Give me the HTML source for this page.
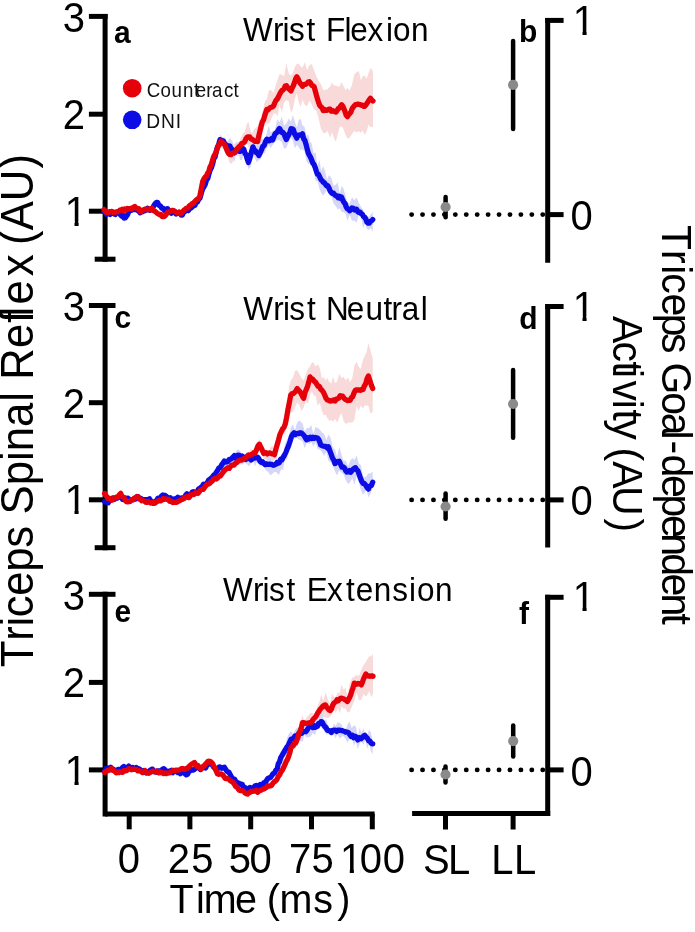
<!DOCTYPE html>
<html lang="en"><head><meta charset="utf-8"><title>Triceps reflex figure</title>
<style>html,body{margin:0;padding:0;background:#fff}svg{display:block;will-change:transform}</style></head>
<body>
<svg width="695" height="932" viewBox="0 0 695 932" font-family='"Liberation Sans", Arial, Helvetica, sans-serif'>
<rect width="695" height="932" fill="#fff"/>
<path d="M104.0,209.6 L106.0,211.5 L108.0,213.5 L110.0,212.9 L112.0,212.4 L114.0,211.9 L116.0,211.4 L118.0,211.1 L120.0,210.4 L122.0,210.0 L124.0,209.9 L126.0,209.3 L128.0,209.1 L130.0,208.3 L132.0,208.1 L134.0,207.8 L136.0,207.1 L138.0,209.0 L140.0,210.5 L142.0,209.7 L144.0,209.5 L146.0,209.7 L148.0,209.8 L150.0,209.2 L152.0,208.8 L154.0,210.4 L156.0,211.4 L158.0,212.9 L160.0,214.5 L162.0,215.9 L164.1,214.1 L166.2,212.6 L168.4,211.1 L170.5,209.9 L172.5,210.2 L174.5,210.4 L176.6,212.1 L178.6,212.2 L180.6,212.9 L182.6,210.6 L184.6,210.2 L186.6,208.3 L188.6,205.6 L190.6,204.4 L192.7,203.6 L194.7,202.0 L197.2,199.9 L199.7,196.5 L201.2,189.5 L202.7,181.3 L204.7,175.4 L206.8,172.1 L208.8,169.4 L210.8,163.6 L212.8,155.2 L214.8,150.1 L216.8,140.2 L218.9,137.6 L220.9,138.6 L222.9,137.3 L224.9,137.2 L227.0,144.0 L229.0,148.3 L231.0,150.6 L233.1,144.9 L235.1,143.2 L237.1,141.7 L239.2,142.3 L241.0,137.2 L242.9,133.5 L244.7,132.1 L246.6,124.4 L248.4,121.8 L250.2,129.6 L252.1,133.2 L253.9,129.5 L255.8,127.8 L257.6,125.9 L259.4,121.0 L261.1,117.6 L263.0,109.4 L264.9,101.2 L266.8,99.1 L269.1,89.8 L271.4,90.6 L273.7,93.1 L275.6,85.2 L277.6,80.1 L279.5,74.2 L281.8,74.6 L284.1,76.4 L286.4,63.3 L288.7,73.5 L291.0,75.6 L292.9,72.5 L294.9,67.1 L296.8,64.0 L298.7,63.4 L300.6,66.5 L302.5,67.6 L304.8,62.2 L307.1,69.9 L309.4,65.3 L311.7,64.0 L314.0,70.1 L316.3,76.2 L318.6,80.8 L320.9,84.3 L323.2,90.1 L325.5,89.9 L327.8,88.9 L330.1,86.4 L332.0,82.4 L334.0,85.4 L335.9,85.6 L337.8,86.6 L339.7,86.2 L341.6,82.1 L343.5,85.9 L345.5,90.0 L347.4,88.0 L349.7,90.5 L352.0,84.7 L354.3,74.3 L356.6,72.3 L358.9,71.1 L360.8,80.3 L362.8,75.9 L364.7,75.4 L366.6,78.7 L368.5,73.3 L370.4,67.9 L373.0,71.1 L373.0,126.8 L370.4,126.9 L368.5,124.5 L366.6,131.4 L364.7,134.9 L362.8,130.4 L360.8,132.7 L358.9,131.3 L356.6,132.3 L354.3,130.9 L352.0,133.9 L349.7,137.4 L347.4,138.7 L345.5,134.7 L343.5,129.3 L341.6,126.3 L339.7,127.2 L337.8,133.7 L335.9,141.8 L334.0,137.9 L332.0,132.1 L330.1,137.7 L327.8,131.0 L325.5,133.1 L323.2,132.9 L320.9,128.5 L318.6,118.7 L316.3,110.5 L314.0,109.5 L311.7,104.2 L309.4,100.4 L307.1,106.2 L304.8,105.1 L302.5,99.7 L300.6,106.9 L298.7,101.8 L296.8,93.1 L294.9,98.9 L292.9,108.7 L291.0,113.0 L288.7,101.2 L286.4,100.0 L284.1,102.6 L281.8,112.3 L279.5,105.1 L277.6,116.2 L275.6,113.2 L273.7,113.8 L271.4,118.5 L269.1,123.6 L266.8,123.5 L264.9,123.2 L263.0,131.1 L261.1,141.9 L259.4,150.2 L257.6,148.7 L255.8,155.1 L253.9,148.5 L252.1,151.6 L250.2,148.2 L248.4,147.0 L246.6,141.7 L244.7,142.7 L242.9,151.6 L241.0,153.7 L239.2,155.2 L237.1,156.5 L235.1,152.6 L233.1,161.7 L231.0,163.9 L229.0,161.5 L227.0,153.1 L224.9,147.5 L222.9,145.1 L220.9,141.6 L218.9,151.2 L216.8,155.4 L214.8,160.8 L212.8,161.9 L210.8,170.3 L208.8,173.2 L206.8,176.7 L204.7,181.0 L202.7,183.7 L201.2,191.8 L199.7,198.9 L197.2,200.4 L194.7,202.8 L192.7,204.5 L190.6,205.7 L188.6,207.4 L186.6,209.6 L184.6,210.3 L182.6,213.0 L180.6,213.6 L178.6,213.5 L176.6,213.1 L174.5,212.4 L172.5,211.2 L170.5,211.5 L168.4,212.6 L166.2,214.1 L164.1,215.5 L162.0,217.0 L160.0,216.1 L158.0,214.5 L156.0,213.1 L154.0,211.8 L152.0,209.7 L150.0,210.1 L148.0,210.3 L146.0,210.3 L144.0,210.6 L142.0,210.9 L140.0,210.9 L138.0,209.4 L136.0,207.9 L134.0,208.5 L132.0,208.5 L130.0,208.9 L128.0,209.3 L126.0,210.0 L124.0,210.1 L122.0,210.6 L120.0,210.8 L118.0,211.2 L116.0,211.6 L114.0,212.1 L112.0,212.6 L110.0,213.1 L108.0,213.6 L106.0,211.6 L104.0,209.6Z" fill="#f8dada" stroke="none"/>
<path d="M104.0,212.0 L106.0,212.7 L108.0,213.3 L110.0,213.9 L112.0,213.7 L114.0,213.4 L116.0,213.2 L118.0,212.8 L120.0,214.2 L122.0,215.5 L124.0,216.8 L126.0,214.6 L128.0,212.7 L130.0,210.7 L132.0,211.0 L134.0,211.4 L136.0,211.5 L138.0,211.5 L140.0,211.6 L142.0,210.6 L144.0,209.6 L146.0,208.8 L148.0,208.3 L150.0,207.4 L152.1,205.9 L154.3,204.9 L156.4,203.1 L158.6,204.6 L160.8,205.7 L163.0,206.8 L164.8,207.9 L166.5,208.4 L168.2,209.6 L170.0,210.9 L172.0,211.2 L174.0,211.2 L176.0,212.9 L178.0,213.4 L180.0,214.0 L181.8,213.7 L183.5,212.8 L185.2,212.2 L187.0,210.9 L189.0,210.1 L191.0,208.4 L193.0,205.2 L195.0,204.5 L197.5,201.4 L200.0,197.9 L202.0,191.1 L204.0,183.9 L206.5,179.4 L209.0,170.6 L211.0,166.5 L213.0,156.3 L215.0,154.5 L217.5,146.6 L220.0,134.3 L222.0,137.3 L224.0,142.7 L226.0,142.7 L228.0,140.5 L230.0,137.9 L232.3,141.1 L234.6,147.4 L236.4,140.9 L238.3,148.5 L240.1,140.9 L242.0,147.4 L243.8,140.3 L246.1,153.0 L248.4,155.9 L250.7,147.7 L253.0,141.7 L254.9,144.8 L256.9,145.7 L258.8,144.3 L260.8,139.4 L262.8,139.0 L264.8,139.9 L266.8,132.7 L268.7,125.7 L270.7,132.8 L272.6,130.8 L274.9,129.9 L277.2,119.2 L279.5,122.3 L281.8,116.9 L284.1,125.5 L286.4,123.4 L288.7,118.6 L291.0,121.4 L292.9,115.1 L294.9,121.8 L296.8,127.5 L298.7,119.9 L300.6,118.7 L302.5,125.6 L304.4,126.6 L306.4,135.9 L308.3,134.4 L310.0,141.7 L311.7,143.3 L313.6,153.7 L315.6,152.1 L317.5,166.6 L319.4,159.8 L321.3,170.7 L323.2,166.1 L325.1,171.2 L327.1,179.7 L329.0,174.9 L331.3,177.7 L333.6,185.7 L335.9,184.8 L337.8,182.3 L339.7,194.0 L341.6,186.1 L343.5,188.4 L345.5,195.4 L347.4,201.9 L349.7,203.8 L352.0,197.3 L354.3,200.2 L356.6,197.6 L358.9,203.0 L361.2,207.2 L363.1,210.0 L365.1,214.9 L367.0,216.3 L368.9,217.0 L370.8,214.7 L372.7,211.6 L372.7,232.1 L370.8,228.2 L368.9,230.1 L367.0,229.0 L365.1,222.5 L363.1,228.3 L361.2,216.9 L358.9,214.7 L356.6,222.8 L354.3,220.5 L352.0,220.7 L349.7,214.7 L347.4,220.7 L345.5,213.4 L343.5,211.9 L341.6,212.1 L339.7,208.3 L337.8,209.6 L335.9,206.2 L333.6,203.4 L331.3,196.6 L329.0,195.0 L327.1,189.9 L325.1,192.8 L323.2,195.6 L321.3,193.2 L319.4,188.8 L317.5,181.0 L315.6,181.0 L313.6,169.8 L311.7,164.6 L310.0,162.7 L308.3,164.0 L306.4,160.7 L304.4,150.9 L302.5,149.4 L300.6,150.1 L298.7,147.1 L296.8,144.8 L294.9,148.3 L292.9,141.0 L291.0,137.4 L288.7,141.9 L286.4,147.7 L284.1,148.7 L281.8,141.7 L279.5,140.3 L277.2,139.9 L274.9,142.1 L272.6,144.9 L270.7,148.2 L268.7,145.3 L266.8,147.4 L264.8,153.3 L262.8,152.8 L260.8,158.9 L258.8,159.9 L256.9,162.6 L254.9,158.1 L253.0,153.3 L250.7,166.7 L248.4,169.4 L246.1,158.7 L243.8,154.2 L242.0,160.0 L240.1,160.0 L238.3,151.7 L236.4,153.2 L234.6,161.6 L232.3,158.9 L230.0,151.0 L228.0,151.7 L226.0,155.2 L224.0,149.1 L222.0,147.6 L220.0,147.8 L217.5,153.0 L215.0,161.8 L213.0,164.9 L211.0,172.3 L209.0,178.7 L206.5,182.8 L204.0,187.6 L202.0,195.0 L200.0,199.9 L197.5,203.2 L195.0,206.5 L193.0,208.3 L191.0,209.7 L189.0,211.0 L187.0,213.0 L185.2,213.4 L183.5,214.3 L181.8,214.8 L180.0,214.9 L178.0,214.1 L176.0,214.4 L174.0,213.0 L172.0,212.3 L170.0,212.0 L168.2,210.9 L166.5,210.4 L164.8,209.2 L163.0,208.2 L160.8,206.8 L158.6,205.8 L156.4,204.3 L154.3,205.7 L152.1,206.7 L150.0,208.5 L148.0,209.0 L146.0,210.0 L144.0,210.8 L142.0,211.7 L140.0,212.5 L138.0,212.4 L136.0,211.7 L134.0,211.6 L132.0,211.4 L130.0,211.4 L128.0,213.4 L126.0,215.2 L124.0,217.3 L122.0,215.9 L120.0,214.4 L118.0,213.2 L116.0,213.4 L114.0,213.6 L112.0,213.8 L110.0,214.1 L108.0,213.3 L106.0,212.7 L104.0,212.0Z" fill="#d6d6f8" stroke="none"/>
<path d="M104.6,494.4 L106.9,496.3 L109.2,498.1 L111.5,500.0 L113.3,498.9 L115.2,497.6 L117.0,496.4 L118.9,495.5 L120.7,494.1 L123.0,496.8 L125.3,499.7 L127.6,502.1 L129.4,501.4 L131.3,500.3 L133.1,499.4 L135.0,498.2 L136.8,497.5 L138.8,498.4 L140.9,498.9 L142.9,499.7 L144.9,500.4 L146.9,500.6 L148.9,501.9 L151.0,502.5 L153.0,502.9 L154.9,501.8 L156.8,501.9 L158.8,500.7 L160.7,500.2 L162.6,499.6 L164.5,498.6 L166.3,499.8 L168.2,500.0 L170.0,501.5 L171.9,501.9 L173.7,503.5 L175.5,502.5 L177.4,500.4 L179.2,499.5 L181.1,498.7 L182.9,498.9 L184.9,497.2 L186.8,496.7 L188.8,495.3 L190.8,494.8 L192.8,493.7 L194.7,492.8 L196.7,492.4 L198.5,491.0 L200.4,490.2 L202.2,488.3 L204.1,487.4 L205.9,485.9 L207.7,484.8 L209.6,482.6 L211.4,479.8 L213.3,480.3 L215.1,479.2 L217.0,477.4 L218.9,474.8 L220.8,473.7 L222.8,470.3 L224.7,471.0 L226.6,468.4 L228.5,465.7 L230.4,463.1 L232.3,464.8 L234.3,463.8 L236.2,458.2 L238.1,459.9 L240.2,456.8 L242.3,454.3 L244.4,453.7 L246.5,454.9 L248.6,454.3 L250.8,448.5 L252.9,450.5 L255.1,445.7 L257.2,445.5 L259.4,438.3 L261.5,447.5 L263.7,453.6 L265.9,449.8 L268.0,453.7 L270.2,447.7 L272.3,445.4 L274.5,449.9 L276.3,438.2 L278.1,433.5 L279.9,429.3 L281.7,427.6 L283.5,419.0 L285.3,413.3 L287.1,408.1 L288.9,387.7 L290.7,380.5 L292.9,377.8 L295.0,370.7 L297.2,370.3 L299.4,373.9 L301.5,378.2 L303.7,380.6 L305.8,374.2 L308.0,368.9 L310.1,366.3 L311.9,362.5 L313.7,362.5 L315.5,366.6 L317.7,364.3 L319.8,368.0 L322.0,378.5 L323.8,376.9 L325.6,380.6 L327.4,378.1 L329.3,382.1 L331.2,383.4 L333.1,376.8 L335.0,382.9 L337.1,381.4 L339.3,373.5 L341.4,378.1 L343.6,377.1 L345.8,380.3 L347.9,377.6 L350.1,382.3 L352.3,378.1 L354.4,365.7 L356.6,361.5 L358.7,366.9 L360.9,368.7 L363.0,359.6 L364.8,356.1 L366.6,351.8 L368.4,343.0 L370.5,350.4 L372.7,357.9 L372.7,411.8 L370.5,413.5 L368.4,405.8 L366.6,405.5 L364.8,405.3 L363.0,408.5 L360.9,405.4 L358.7,410.9 L356.6,406.0 L354.4,419.7 L352.3,422.6 L350.1,422.6 L347.9,422.8 L345.8,423.9 L343.6,421.3 L341.4,412.9 L339.3,417.3 L337.1,422.6 L335.0,418.7 L333.1,421.7 L331.2,419.7 L329.3,421.0 L327.4,418.0 L325.6,414.7 L323.8,415.4 L322.0,411.3 L319.8,402.8 L317.7,405.5 L315.5,395.5 L313.7,395.6 L311.9,391.2 L310.1,394.9 L308.0,404.0 L305.8,400.8 L303.7,407.5 L301.5,411.0 L299.4,404.9 L297.2,402.4 L295.0,407.6 L292.9,412.1 L290.7,412.5 L288.9,417.3 L287.1,418.6 L285.3,434.9 L283.5,433.0 L281.7,434.6 L279.9,445.6 L278.1,445.4 L276.3,457.9 L274.5,459.5 L272.3,462.2 L270.2,460.4 L268.0,457.2 L265.9,459.9 L263.7,458.7 L261.5,451.5 L259.4,446.9 L257.2,450.5 L255.1,456.4 L252.9,456.8 L250.8,456.6 L248.6,456.7 L246.5,459.9 L244.4,460.6 L242.3,461.6 L240.2,464.2 L238.1,464.2 L236.2,462.9 L234.3,466.2 L232.3,466.1 L230.4,470.4 L228.5,470.6 L226.6,473.5 L224.7,473.3 L222.8,475.5 L220.8,476.8 L218.9,477.4 L217.0,480.2 L215.1,481.8 L213.3,482.5 L211.4,484.9 L209.6,486.2 L207.7,486.2 L205.9,486.6 L204.1,489.3 L202.2,490.8 L200.4,490.7 L198.5,493.6 L196.7,493.5 L194.7,494.5 L192.8,495.6 L190.8,496.0 L188.8,497.4 L186.8,497.9 L184.9,499.3 L182.9,499.9 L181.1,501.3 L179.2,502.2 L177.4,503.2 L175.5,503.0 L173.7,504.0 L171.9,503.1 L170.0,502.4 L168.2,501.7 L166.3,501.1 L164.5,499.7 L162.6,500.2 L160.7,500.9 L158.8,502.2 L156.8,502.7 L154.9,503.6 L153.0,504.0 L151.0,503.6 L148.9,502.8 L146.9,501.8 L144.9,500.9 L142.9,500.4 L140.9,499.4 L138.8,498.6 L136.8,498.0 L135.0,498.8 L133.1,500.1 L131.3,500.7 L129.4,501.5 L127.6,502.5 L125.3,500.1 L123.0,497.4 L120.7,494.5 L118.9,495.6 L117.0,496.8 L115.2,497.8 L113.3,499.0 L111.5,500.2 L109.2,498.3 L106.9,496.3 L104.6,494.4Z" fill="#f8dada" stroke="none"/>
<path d="M104.6,502.4 L106.4,501.7 L108.3,501.1 L110.2,500.4 L112.0,499.7 L114.0,499.3 L116.0,498.9 L118.0,498.4 L120.0,497.8 L122.0,497.9 L124.0,498.6 L126.0,498.9 L128.0,499.2 L130.2,498.1 L132.5,497.1 L134.8,496.9 L137.0,495.7 L139.2,496.7 L141.5,497.6 L143.8,497.7 L146.0,498.8 L147.8,499.6 L149.5,500.0 L151.2,500.4 L153.0,500.7 L154.8,498.3 L156.7,498.4 L158.5,497.7 L160.3,496.5 L162.2,494.9 L164.0,494.7 L166.0,494.7 L168.0,497.7 L170.0,498.5 L172.0,498.7 L174.0,499.0 L176.2,499.6 L178.5,497.7 L180.8,497.5 L183.0,496.4 L185.2,494.3 L187.3,493.0 L189.5,492.5 L191.7,490.9 L193.8,489.0 L196.0,488.4 L198.0,488.6 L200.0,484.1 L202.0,482.4 L204.0,482.9 L206.0,479.8 L208.2,478.5 L210.5,475.8 L212.8,472.9 L215.0,473.8 L216.9,467.4 L218.7,466.3 L220.6,462.9 L222.4,463.1 L224.3,458.8 L226.3,458.1 L228.2,459.5 L230.2,455.7 L232.2,456.1 L234.2,457.4 L236.1,450.8 L238.1,449.4 L240.2,451.0 L242.3,455.5 L244.4,454.8 L246.5,452.2 L248.6,453.4 L250.8,451.0 L252.9,452.6 L255.1,447.7 L257.2,455.2 L259.4,458.5 L261.6,460.4 L263.7,459.3 L265.9,462.6 L268.0,452.9 L270.2,456.6 L272.3,464.8 L274.5,463.4 L276.7,457.0 L278.9,460.5 L281.0,454.6 L283.2,454.4 L285.0,444.6 L286.8,439.4 L288.6,438.1 L290.8,428.1 L292.9,424.2 L294.8,430.8 L296.6,424.1 L298.5,420.7 L300.4,421.3 L302.6,423.7 L304.8,431.5 L306.9,427.9 L309.1,428.1 L311.2,425.1 L313.4,434.1 L315.5,427.1 L317.7,427.9 L319.8,429.5 L322.0,432.6 L324.2,434.1 L326.3,440.0 L328.5,434.5 L330.7,437.9 L332.8,447.5 L335.0,449.4 L337.1,457.1 L339.3,446.8 L341.5,454.8 L343.6,461.0 L345.8,460.5 L348.0,466.6 L350.1,460.7 L352.3,458.0 L354.4,459.7 L356.6,455.5 L358.7,463.4 L360.9,465.2 L363.0,475.9 L364.8,477.6 L366.6,476.1 L368.4,473.2 L370.5,473.6 L372.7,471.4 L372.7,487.0 L370.5,493.7 L368.4,497.5 L366.6,489.3 L364.8,492.2 L363.0,495.1 L360.9,490.1 L358.7,481.9 L356.6,476.0 L354.4,484.7 L352.3,478.2 L350.1,482.2 L348.0,484.1 L345.8,479.9 L343.6,474.5 L341.5,472.8 L339.3,470.2 L337.1,475.6 L335.0,471.7 L332.8,465.3 L330.7,462.3 L328.5,461.1 L326.3,451.8 L324.2,455.9 L322.0,452.3 L319.8,449.4 L317.7,449.3 L315.5,442.7 L313.4,446.4 L311.2,442.1 L309.1,444.3 L306.9,441.9 L304.8,448.6 L302.6,441.4 L300.4,440.1 L298.5,439.5 L296.6,437.8 L294.8,438.5 L292.9,439.8 L290.8,444.4 L288.6,451.3 L286.8,460.4 L285.0,456.7 L283.2,469.6 L281.0,469.4 L278.9,474.9 L276.7,472.6 L274.5,471.7 L272.3,474.0 L270.2,475.2 L268.0,471.7 L265.9,470.5 L263.7,464.2 L261.6,466.6 L259.4,465.4 L257.2,461.1 L255.1,466.5 L252.9,458.7 L250.8,464.3 L248.6,466.2 L246.5,463.6 L244.4,462.8 L242.3,464.4 L240.2,463.9 L238.1,462.9 L236.1,462.5 L234.2,464.4 L232.2,461.7 L230.2,465.3 L228.2,465.0 L226.3,465.9 L224.3,467.3 L222.4,469.8 L220.6,471.3 L218.7,470.4 L216.9,473.4 L215.0,478.3 L212.8,476.5 L210.5,479.4 L208.2,481.3 L206.0,485.8 L204.0,485.4 L202.0,486.9 L200.0,489.4 L198.0,489.7 L196.0,493.0 L193.8,492.8 L191.7,496.5 L189.5,497.1 L187.3,497.2 L185.2,497.8 L183.0,499.6 L180.8,500.1 L178.5,499.2 L176.2,502.4 L174.0,501.7 L172.0,502.7 L170.0,500.0 L168.0,500.4 L166.0,498.1 L164.0,496.7 L162.2,498.8 L160.3,499.5 L158.5,499.8 L156.7,499.6 L154.8,501.4 L153.0,501.4 L151.2,501.3 L149.5,501.5 L147.8,501.1 L146.0,500.7 L143.8,500.0 L141.5,499.0 L139.2,497.5 L137.0,496.6 L134.8,497.7 L132.5,499.0 L130.2,499.7 L128.0,500.3 L126.0,500.1 L124.0,499.1 L122.0,499.1 L120.0,498.1 L118.0,498.5 L116.0,499.4 L114.0,499.8 L112.0,500.1 L110.2,500.7 L108.3,501.3 L106.4,501.9 L104.6,502.4Z" fill="#d6d6f8" stroke="none"/>
<path d="M104.6,772.5 L106.9,771.3 L109.2,770.2 L111.5,769.0 L113.8,771.3 L116.1,773.7 L118.0,772.7 L119.9,772.0 L121.8,771.3 L123.8,770.5 L125.7,769.7 L127.6,768.7 L129.6,769.2 L131.5,769.4 L133.5,769.9 L135.5,770.2 L137.5,770.3 L139.4,770.7 L141.4,771.1 L143.5,771.5 L145.5,771.5 L147.6,771.3 L149.6,771.8 L151.7,771.5 L153.7,771.9 L155.8,771.7 L157.8,771.7 L159.9,772.4 L161.8,771.9 L163.7,771.9 L165.7,772.5 L167.6,772.4 L169.5,771.9 L171.4,772.4 L173.4,771.4 L175.3,770.9 L177.3,769.8 L179.3,769.8 L181.3,768.9 L183.2,768.5 L185.2,767.8 L187.0,766.5 L188.9,765.9 L190.7,765.0 L192.6,764.2 L194.4,763.5 L196.7,764.8 L199.0,766.3 L201.3,766.7 L203.1,766.1 L205.0,764.3 L206.8,762.9 L208.7,762.1 L210.5,760.3 L212.8,764.3 L215.1,768.7 L217.4,773.2 L219.2,773.3 L221.1,775.4 L222.9,775.0 L224.8,777.0 L226.6,778.0 L228.7,778.6 L230.7,781.5 L232.8,782.7 L234.8,784.8 L236.9,785.7 L238.9,787.2 L240.9,788.8 L243.0,791.5 L245.0,791.7 L247.1,792.4 L249.2,792.5 L251.3,792.3 L253.4,791.1 L255.5,790.9 L257.6,791.0 L259.6,790.4 L261.5,788.0 L263.5,788.3 L265.5,787.3 L267.5,786.4 L269.4,782.8 L271.4,784.7 L273.4,779.2 L275.4,777.6 L277.5,776.3 L279.5,775.2 L281.5,768.4 L283.6,767.1 L285.6,761.0 L287.6,755.6 L289.3,749.7 L291.0,742.9 L292.9,739.7 L294.9,737.7 L296.8,738.8 L298.7,734.8 L300.6,722.4 L302.5,714.7 L304.5,722.1 L306.6,717.3 L308.6,715.3 L310.6,712.7 L312.9,713.5 L315.2,712.9 L317.5,705.7 L319.4,701.9 L321.3,694.6 L323.2,700.8 L325.5,692.5 L327.8,698.9 L330.1,704.0 L332.0,693.4 L334.0,697.1 L335.9,696.7 L337.8,692.2 L339.7,693.1 L341.6,684.6 L343.5,689.6 L345.5,687.8 L347.4,696.5 L349.7,683.3 L352.0,677.9 L354.3,676.7 L356.6,674.9 L358.9,676.0 L361.2,670.0 L363.5,664.9 L365.8,662.2 L367.6,658.8 L369.4,656.0 L371.2,656.6 L373.0,653.2 L373.0,693.7 L371.2,697.3 L369.4,691.0 L367.6,694.4 L365.8,696.6 L363.5,693.9 L361.2,700.0 L358.9,700.3 L356.6,692.3 L354.3,701.1 L352.0,706.2 L349.7,711.8 L347.4,712.4 L345.5,708.3 L343.5,708.5 L341.6,706.3 L339.7,713.2 L337.8,708.6 L335.9,712.5 L334.0,710.0 L332.0,714.3 L330.1,716.7 L327.8,718.3 L325.5,717.4 L323.2,716.8 L321.3,719.6 L319.4,721.2 L317.5,716.2 L315.2,724.3 L312.9,728.5 L310.6,729.9 L308.6,724.2 L306.6,722.8 L304.5,727.2 L302.5,727.7 L300.6,735.7 L298.7,740.4 L296.8,745.0 L294.9,749.6 L292.9,747.9 L291.0,752.2 L289.3,755.5 L287.6,765.6 L285.6,767.7 L283.6,769.8 L281.5,772.6 L279.5,777.1 L277.5,782.0 L275.4,780.8 L273.4,783.8 L271.4,786.3 L269.4,788.8 L267.5,787.6 L265.5,789.3 L263.5,791.2 L261.5,791.7 L259.6,791.1 L257.6,792.7 L255.5,793.8 L253.4,792.8 L251.3,793.0 L249.2,794.4 L247.1,793.6 L245.0,794.2 L243.0,791.8 L240.9,791.3 L238.9,790.2 L236.9,788.3 L234.8,786.3 L232.8,784.9 L230.7,782.4 L228.7,781.4 L226.6,778.4 L224.8,777.7 L222.9,776.5 L221.1,776.4 L219.2,776.0 L217.4,774.9 L215.1,770.5 L212.8,765.9 L210.5,761.2 L208.7,762.6 L206.8,764.1 L205.0,765.5 L203.1,767.1 L201.3,768.1 L199.0,767.6 L196.7,766.7 L194.4,765.4 L192.6,766.2 L190.7,766.5 L188.9,767.1 L187.0,768.1 L185.2,768.5 L183.2,769.3 L181.3,769.7 L179.3,770.4 L177.3,770.9 L175.3,771.8 L173.4,772.7 L171.4,773.3 L169.5,773.2 L167.6,773.1 L165.7,773.1 L163.7,772.6 L161.8,773.0 L159.9,773.2 L157.8,773.0 L155.8,772.4 L153.7,772.5 L151.7,772.5 L149.6,772.4 L147.6,772.1 L145.5,772.1 L143.5,771.6 L141.4,771.8 L139.4,771.4 L137.5,770.9 L135.5,770.5 L133.5,770.2 L131.5,769.8 L129.6,769.5 L127.6,769.2 L125.7,769.8 L123.8,770.8 L121.8,771.4 L119.9,772.2 L118.0,773.0 L116.1,773.8 L113.8,771.4 L111.5,769.1 L109.2,770.2 L106.9,771.3 L104.6,772.5Z" fill="#f8dada" stroke="none"/>
<path d="M104.6,770.0 L106.4,769.5 L108.3,769.0 L110.2,768.4 L112.0,767.8 L114.0,768.4 L116.0,768.9 L118.0,769.4 L120.0,769.8 L121.9,768.8 L123.8,767.5 L125.7,766.6 L127.6,765.5 L129.4,766.1 L131.3,767.0 L133.2,767.9 L135.0,768.5 L136.9,768.9 L138.8,769.3 L140.6,769.2 L142.5,769.8 L144.4,770.0 L146.2,770.3 L148.1,770.2 L150.0,770.2 L151.9,770.8 L153.8,770.8 L155.6,770.4 L157.5,770.0 L159.4,770.1 L161.2,770.6 L163.1,770.1 L165.0,770.9 L167.2,770.6 L169.3,770.3 L171.5,771.0 L173.7,770.8 L175.8,771.7 L178.0,771.8 L179.9,771.6 L181.8,772.1 L183.7,772.5 L185.6,773.0 L187.5,773.6 L189.4,770.4 L191.2,769.2 L193.1,767.9 L195.0,765.7 L197.0,766.4 L199.0,765.8 L201.0,767.4 L203.0,766.9 L205.0,764.7 L207.0,764.6 L209.0,762.4 L211.0,760.7 L213.0,763.7 L215.0,764.9 L217.0,767.4 L218.8,768.9 L220.7,767.8 L222.5,764.7 L224.3,766.9 L226.2,765.8 L228.1,768.8 L230.0,772.9 L232.3,774.7 L234.6,776.3 L236.9,779.5 L238.7,780.7 L240.6,780.4 L242.4,785.9 L244.3,782.1 L246.1,785.1 L248.0,786.6 L249.9,784.4 L251.9,787.5 L253.8,782.9 L255.7,787.1 L257.6,786.3 L259.5,783.5 L261.4,783.6 L263.4,779.2 L265.3,780.5 L267.2,778.9 L269.1,775.5 L271.1,772.1 L273.1,770.9 L275.2,765.6 L277.2,759.9 L279.1,760.3 L281.0,751.0 L282.9,747.8 L284.9,747.2 L286.9,738.2 L289.0,733.4 L291.0,731.0 L293.0,734.0 L295.1,730.1 L297.1,727.4 L299.1,727.9 L300.9,731.7 L302.8,722.9 L304.6,723.3 L306.5,727.1 L308.3,722.7 L310.6,718.5 L312.9,720.4 L315.2,720.1 L317.5,714.8 L319.8,715.9 L322.1,713.6 L324.1,721.7 L326.1,719.0 L328.1,725.3 L330.1,731.3 L331.9,730.3 L333.8,723.8 L335.6,725.9 L337.5,722.3 L339.3,722.7 L341.4,724.3 L343.5,728.4 L345.5,730.6 L347.6,724.2 L349.7,721.8 L351.7,728.1 L353.8,725.2 L355.8,726.4 L357.8,736.0 L359.7,727.6 L361.6,733.1 L363.5,728.0 L365.3,735.9 L367.2,736.6 L369.0,729.5 L370.9,732.6 L372.7,742.5 L372.7,754.6 L370.9,751.0 L369.0,743.9 L367.2,748.8 L365.3,738.9 L363.5,745.3 L361.6,741.6 L359.7,743.6 L357.8,749.3 L355.8,741.2 L353.8,746.1 L351.7,735.8 L349.7,737.4 L347.6,742.8 L345.5,739.1 L343.5,735.9 L341.4,736.9 L339.3,738.7 L337.5,733.4 L335.6,738.5 L333.8,733.9 L331.9,735.7 L330.1,733.1 L328.1,734.6 L326.1,734.1 L324.1,730.9 L322.1,728.5 L319.8,725.8 L317.5,725.6 L315.2,735.2 L312.9,733.1 L310.6,736.7 L308.3,736.9 L306.5,737.8 L304.6,734.3 L302.8,741.5 L300.9,741.3 L299.1,740.6 L297.1,743.4 L295.1,739.4 L293.0,739.2 L291.0,746.5 L289.0,745.3 L286.9,749.6 L284.9,754.5 L282.9,762.0 L281.0,758.6 L279.1,765.5 L277.2,769.1 L275.2,775.3 L273.1,777.2 L271.1,780.2 L269.1,782.0 L267.2,781.7 L265.3,784.2 L263.4,789.5 L261.4,787.0 L259.5,791.0 L257.6,788.0 L255.7,791.7 L253.8,792.7 L251.9,789.9 L249.9,789.7 L248.0,789.2 L246.1,792.8 L244.3,792.0 L242.4,787.5 L240.6,789.4 L238.7,786.8 L236.9,786.4 L234.6,782.1 L232.3,779.9 L230.0,775.9 L228.1,772.2 L226.2,770.2 L224.3,770.1 L222.5,771.2 L220.7,771.2 L218.8,770.1 L217.0,772.2 L215.0,770.4 L213.0,767.4 L211.0,764.2 L209.0,765.7 L207.0,766.2 L205.0,768.3 L203.0,768.9 L201.0,768.7 L199.0,768.6 L197.0,769.0 L195.0,768.4 L193.1,770.4 L191.2,771.8 L189.4,772.3 L187.5,774.2 L185.6,773.6 L183.7,773.4 L181.8,774.1 L179.9,772.9 L178.0,772.4 L175.8,772.2 L173.7,771.9 L171.5,771.8 L169.3,771.9 L167.2,771.8 L165.0,771.8 L163.1,771.7 L161.2,771.5 L159.4,771.8 L157.5,771.2 L155.6,771.1 L153.8,771.7 L151.9,771.1 L150.0,771.4 L148.1,770.9 L146.2,771.2 L144.4,770.6 L142.5,770.1 L140.6,770.1 L138.8,769.7 L136.9,769.4 L135.0,769.3 L133.2,768.3 L131.3,767.7 L129.4,766.8 L127.6,765.9 L125.7,766.9 L123.8,768.0 L121.9,769.2 L120.0,770.1 L118.0,769.7 L116.0,769.2 L114.0,768.5 L112.0,768.1 L110.2,768.6 L108.3,769.0 L106.4,769.5 L104.6,770.0Z" fill="#d6d6f8" stroke="none"/>
<line x1="105.1" y1="13.9" x2="105.1" y2="261.7" stroke="#000" stroke-width="5.0" stroke-linecap="butt" />
<line x1="88.9" y1="16.4" x2="107.6" y2="16.4" stroke="#000" stroke-width="5.0" stroke-linecap="butt" />
<line x1="88.9" y1="114.2" x2="105.1" y2="114.2" stroke="#000" stroke-width="5.0" stroke-linecap="butt" />
<line x1="88.9" y1="211.2" x2="105.1" y2="211.2" stroke="#000" stroke-width="5.0" stroke-linecap="butt" />
<line x1="94.7" y1="259.2" x2="115.5" y2="259.2" stroke="#000" stroke-width="5.0" stroke-linecap="butt" />
<line x1="105.1" y1="303.0" x2="105.1" y2="550.2" stroke="#000" stroke-width="5.0" stroke-linecap="butt" />
<line x1="88.9" y1="305.5" x2="115.5" y2="305.5" stroke="#000" stroke-width="5.0" stroke-linecap="butt" />
<line x1="88.9" y1="402.7" x2="105.1" y2="402.7" stroke="#000" stroke-width="5.0" stroke-linecap="butt" />
<line x1="88.9" y1="499.8" x2="105.1" y2="499.8" stroke="#000" stroke-width="5.0" stroke-linecap="butt" />
<line x1="94.7" y1="547.7" x2="115.5" y2="547.7" stroke="#000" stroke-width="5.0" stroke-linecap="butt" />
<line x1="105.1" y1="591.8" x2="105.1" y2="816.5" stroke="#000" stroke-width="5.0" stroke-linecap="butt" />
<line x1="88.9" y1="594.3" x2="115.5" y2="594.3" stroke="#000" stroke-width="5.0" stroke-linecap="butt" />
<line x1="88.9" y1="682.4" x2="105.1" y2="682.4" stroke="#000" stroke-width="5.0" stroke-linecap="butt" />
<line x1="88.9" y1="769.9" x2="105.1" y2="769.9" stroke="#000" stroke-width="5.0" stroke-linecap="butt" />
<line x1="105.1" y1="814.0" x2="374.6" y2="814.0" stroke="#000" stroke-width="5.0" stroke-linecap="butt" />
<line x1="129.2" y1="814.0" x2="129.2" y2="829.3" stroke="#000" stroke-width="5.0" stroke-linecap="butt" />
<line x1="189.9" y1="814.0" x2="189.9" y2="829.3" stroke="#000" stroke-width="5.0" stroke-linecap="butt" />
<line x1="250.7" y1="814.0" x2="250.7" y2="829.3" stroke="#000" stroke-width="5.0" stroke-linecap="butt" />
<line x1="311.5" y1="814.0" x2="311.5" y2="829.3" stroke="#000" stroke-width="5.0" stroke-linecap="butt" />
<line x1="372.3" y1="814.0" x2="372.3" y2="829.3" stroke="#000" stroke-width="5.0" stroke-linecap="butt" />
<line x1="547.7" y1="17.9" x2="547.7" y2="262.7" stroke="#000" stroke-width="5.0" stroke-linecap="butt" />
<line x1="545.2" y1="20.4" x2="563.6" y2="20.4" stroke="#000" stroke-width="5.0" stroke-linecap="butt" />
<line x1="547.7" y1="214.6" x2="563.6" y2="214.6" stroke="#000" stroke-width="5.0" stroke-linecap="butt" />
<line x1="411.6" y1="214.6" x2="545.7" y2="214.6" stroke="#000" stroke-width="4.9" stroke-linecap="round" stroke-dasharray="0.01 10.92"/>
<line x1="547.7" y1="304.0" x2="547.7" y2="547.6" stroke="#000" stroke-width="5.0" stroke-linecap="butt" />
<line x1="545.2" y1="306.5" x2="563.6" y2="306.5" stroke="#000" stroke-width="5.0" stroke-linecap="butt" />
<line x1="547.7" y1="499.9" x2="563.6" y2="499.9" stroke="#000" stroke-width="5.0" stroke-linecap="butt" />
<line x1="411.6" y1="499.9" x2="545.7" y2="499.9" stroke="#000" stroke-width="4.9" stroke-linecap="round" stroke-dasharray="0.01 10.92"/>
<line x1="547.7" y1="594.8" x2="547.7" y2="815.9" stroke="#000" stroke-width="5.0" stroke-linecap="butt" />
<line x1="545.2" y1="597.3" x2="563.6" y2="597.3" stroke="#000" stroke-width="5.0" stroke-linecap="butt" />
<line x1="547.7" y1="769.9" x2="563.6" y2="769.9" stroke="#000" stroke-width="5.0" stroke-linecap="butt" />
<line x1="411.6" y1="769.9" x2="545.7" y2="769.9" stroke="#000" stroke-width="4.9" stroke-linecap="round" stroke-dasharray="0.01 10.92"/>
<line x1="412.1" y1="813.4" x2="550.2" y2="813.4" stroke="#000" stroke-width="5.0" stroke-linecap="butt" />
<line x1="445.5" y1="813.4" x2="445.5" y2="829.5" stroke="#000" stroke-width="5.0" stroke-linecap="butt" />
<line x1="513.1" y1="813.4" x2="513.1" y2="829.5" stroke="#000" stroke-width="5.0" stroke-linecap="butt" />
<line x1="445.6" y1="197.1" x2="445.6" y2="217.3" stroke="#000" stroke-width="4.5" stroke-linecap="round" />
<circle cx="445.6" cy="207.0" r="5.1" fill="#8a8a8a"/>
<line x1="513.1" y1="41.1" x2="513.1" y2="129.0" stroke="#000" stroke-width="4.5" stroke-linecap="round" />
<circle cx="513.1" cy="84.9" r="5.1" fill="#8a8a8a"/>
<line x1="445.6" y1="493.5" x2="445.6" y2="518.8" stroke="#000" stroke-width="4.5" stroke-linecap="round" />
<circle cx="445.6" cy="506.5" r="5.1" fill="#8a8a8a"/>
<line x1="513.1" y1="370.0" x2="513.1" y2="437.8" stroke="#000" stroke-width="4.5" stroke-linecap="round" />
<circle cx="513.1" cy="404.0" r="5.1" fill="#8a8a8a"/>
<line x1="445.5" y1="766.4" x2="445.5" y2="782.4" stroke="#000" stroke-width="4.5" stroke-linecap="round" />
<circle cx="445.5" cy="774.5" r="5.1" fill="#8a8a8a"/>
<line x1="513.2" y1="725.6" x2="513.2" y2="756.5" stroke="#000" stroke-width="4.5" stroke-linecap="round" />
<circle cx="513.2" cy="741.1" r="5.1" fill="#8a8a8a"/>
<path d="M104.0,211.8 L105.2,212.5 L106.4,214.3 L107.6,213.8 L108.8,213.9 L110.0,214.5 L111.3,213.0 L112.7,213.3 L114.0,213.8 L115.3,214.5 L116.7,212.3 L118.0,211.9 L119.2,211.9 L120.4,214.7 L121.6,216.1 L122.8,215.0 L124.0,218.0 L125.2,217.9 L126.4,216.2 L127.6,214.6 L128.8,211.6 L130.0,209.1 L131.2,210.3 L132.5,209.3 L133.8,209.4 L135.0,209.6 L136.2,209.1 L137.5,210.4 L138.8,211.0 L140.0,212.7 L141.2,211.9 L142.5,211.7 L143.8,210.8 L145.0,210.7 L146.2,209.7 L147.5,208.4 L148.8,209.9 L150.0,210.4 L151.3,209.5 L152.6,208.1 L153.8,205.7 L155.1,203.7 L156.4,202.5 L157.7,202.5 L159.0,205.3 L160.4,205.9 L161.7,208.1 L163.0,208.1 L164.2,210.1 L165.3,211.0 L166.5,208.8 L167.7,208.7 L168.8,211.2 L170.0,211.3 L171.2,213.2 L172.5,212.4 L173.8,211.1 L175.0,212.6 L176.2,214.1 L177.5,213.3 L178.8,212.5 L180.0,213.1 L181.2,215.0 L182.3,215.0 L183.5,212.6 L184.7,211.7 L185.8,210.5 L187.0,209.5 L188.3,210.6 L189.7,208.5 L191.0,208.1 L192.3,207.0 L193.7,204.9 L195.0,205.2 L196.2,202.3 L197.5,201.9 L198.8,199.1 L200.0,198.1 L201.3,193.2 L202.7,188.8 L204.0,186.8 L205.2,184.5 L206.5,180.1 L207.8,178.3 L209.0,173.7 L210.2,169.9 L211.4,167.7 L212.6,164.2 L213.8,158.7 L215.0,157.2 L216.2,151.6 L217.5,147.0 L218.8,144.4 L220.0,139.6 L221.2,140.3 L222.4,140.5 L223.6,141.3 L224.8,143.9 L226.0,144.7 L227.3,145.9 L228.7,145.9 L230.0,146.2 L231.2,149.2 L232.3,149.6 L233.4,150.7 L234.6,152.8 L235.9,150.7 L237.2,149.3 L238.5,151.0 L239.9,151.4 L241.2,149.5 L242.5,148.2 L243.8,149.3 L245.0,153.5 L246.1,154.5 L247.2,159.0 L248.4,162.5 L249.6,159.0 L250.7,155.2 L251.8,150.7 L253.0,146.9 L254.2,150.6 L255.3,150.6 L256.5,152.8 L257.6,152.9 L258.8,155.5 L260.1,153.1 L261.5,149.8 L262.8,146.5 L264.1,145.6 L265.5,141.8 L266.8,139.3 L268.0,139.8 L269.1,140.9 L270.3,140.4 L271.4,138.7 L272.6,139.9 L273.8,136.9 L274.9,134.1 L276.1,132.9 L277.2,132.2 L278.4,129.9 L279.5,128.5 L280.6,130.3 L281.8,132.4 L282.9,132.5 L284.1,134.0 L285.2,137.1 L286.4,139.5 L287.5,137.0 L288.7,134.9 L289.9,132.4 L291.0,128.7 L292.2,128.8 L293.3,129.5 L294.5,133.6 L295.6,135.6 L296.8,138.2 L297.9,135.2 L299.1,135.5 L300.2,134.9 L301.4,135.2 L302.5,133.8 L303.7,139.0 L304.8,140.3 L306.0,144.2 L307.1,148.6 L308.3,153.0 L309.4,155.3 L310.6,157.4 L311.7,160.0 L312.9,163.3 L314.0,164.4 L315.2,167.4 L316.3,171.1 L317.5,174.2 L318.6,174.6 L319.8,177.1 L320.9,179.5 L322.1,180.6 L323.2,182.2 L324.4,182.7 L325.5,184.3 L326.7,185.9 L327.8,185.6 L329.0,188.0 L330.1,190.9 L331.3,192.5 L332.4,193.4 L333.6,193.2 L334.8,194.9 L335.9,195.8 L337.0,195.9 L338.2,197.7 L339.3,196.3 L340.5,198.3 L341.6,197.1 L342.8,200.2 L343.9,202.4 L345.1,203.6 L346.2,206.9 L347.4,208.9 L348.5,209.4 L349.7,210.8 L350.9,209.4 L352.0,207.9 L353.1,208.3 L354.3,209.9 L355.4,209.3 L356.6,209.1 L357.8,211.7 L358.9,212.4 L360.1,212.1 L361.2,213.7 L362.4,214.3 L363.5,216.6 L364.7,217.1 L365.8,219.1 L367.0,222.2 L368.1,223.0 L369.3,223.0 L370.4,221.2 L371.6,220.9 L372.7,219.6" fill="none" stroke="#0c0ce4" stroke-width="5.3" stroke-linejoin="round" stroke-linecap="round"/>
<path d="M104.0,209.5 L105.3,211.2 L106.7,212.8 L108.0,212.9 L109.3,211.7 L110.7,211.8 L112.0,211.4 L113.3,212.4 L114.7,212.4 L116.0,212.0 L117.2,211.7 L118.5,211.6 L119.8,210.2 L121.0,210.1 L122.2,209.3 L123.5,210.5 L124.8,209.0 L126.0,210.0 L127.2,208.5 L128.5,209.1 L129.8,208.5 L131.0,208.2 L132.2,209.0 L133.5,207.3 L134.8,206.4 L136.0,207.9 L137.3,208.7 L138.7,208.7 L140.0,211.3 L141.2,211.9 L142.4,210.2 L143.6,210.0 L144.8,209.2 L146.0,209.1 L147.2,209.8 L148.4,209.0 L149.6,209.8 L150.8,208.6 L152.0,208.3 L153.2,210.6 L154.5,211.1 L155.8,211.9 L157.0,213.1 L158.2,213.9 L159.5,214.5 L160.8,214.4 L162.0,216.4 L163.2,216.7 L164.4,216.5 L165.6,215.2 L166.9,213.4 L168.1,212.1 L169.3,211.8 L170.5,211.2 L171.8,210.3 L173.0,210.4 L174.3,210.9 L175.6,211.7 L176.8,213.0 L178.1,213.1 L179.3,212.1 L180.6,213.8 L181.8,212.5 L183.0,211.6 L184.2,209.9 L185.4,209.1 L186.6,208.1 L187.9,208.0 L189.3,205.8 L190.6,205.3 L192.0,203.7 L193.3,203.6 L194.7,201.5 L195.9,200.3 L197.2,199.2 L198.4,198.7 L199.7,196.5 L201.2,189.4 L202.7,181.5 L203.9,179.0 L205.1,177.1 L206.4,176.1 L207.6,173.2 L208.8,171.7 L210.0,167.0 L211.2,164.9 L212.4,160.8 L213.6,156.8 L214.8,154.5 L216.0,152.7 L217.2,148.4 L218.5,145.5 L219.7,144.0 L220.9,140.9 L222.2,142.2 L223.4,143.2 L224.7,144.6 L225.9,147.6 L227.2,150.8 L228.5,153.4 L229.7,154.4 L231.0,154.6 L232.2,153.3 L233.3,153.1 L234.5,152.6 L235.7,151.2 L236.9,148.9 L238.0,147.9 L239.2,146.6 L240.5,145.5 L241.8,143.3 L243.1,143.1 L244.5,142.1 L245.8,139.1 L247.1,137.2 L248.4,136.9 L249.7,136.9 L251.0,138.9 L252.3,139.3 L253.7,140.3 L255.0,141.3 L256.3,141.0 L257.6,141.5 L258.8,135.8 L259.9,131.4 L261.1,126.5 L262.2,122.1 L263.4,120.2 L264.5,116.4 L265.7,112.6 L266.8,109.5 L267.9,109.9 L269.1,108.6 L270.2,107.6 L271.4,107.3 L272.6,106.8 L273.7,105.6 L274.9,102.6 L276.0,100.4 L277.2,99.1 L278.3,97.1 L279.5,94.5 L280.6,92.4 L281.8,90.7 L282.9,90.1 L284.1,88.7 L285.2,86.1 L286.4,85.7 L287.5,87.5 L288.7,88.6 L289.9,89.8 L291.0,90.9 L292.2,87.8 L293.3,85.7 L294.5,82.5 L295.6,79.1 L296.8,76.8 L297.9,78.4 L299.1,81.5 L300.2,83.2 L301.4,84.6 L302.5,86.2 L303.6,84.5 L304.8,84.3 L305.9,84.3 L307.1,83.3 L308.2,82.1 L309.4,81.7 L310.5,83.0 L311.7,85.2 L312.9,85.7 L314.0,86.6 L315.1,90.3 L316.3,94.8 L317.5,98.9 L318.6,102.5 L319.8,105.5 L320.9,106.8 L322.1,107.8 L323.2,110.5 L324.4,110.4 L325.5,109.7 L326.6,110.4 L327.8,109.8 L329.0,109.2 L330.1,109.1 L331.3,111.2 L332.4,110.4 L333.6,111.2 L334.7,111.7 L335.9,112.1 L337.0,110.7 L338.2,108.6 L339.3,108.3 L340.5,106.2 L341.6,104.7 L342.8,106.1 L343.9,108.8 L345.1,111.8 L346.2,115.1 L347.4,116.6 L348.5,114.7 L349.7,113.7 L350.9,112.2 L352.0,109.0 L353.1,107.2 L354.3,105.9 L355.4,104.7 L356.6,104.5 L357.8,104.1 L358.9,104.3 L360.1,104.5 L361.2,105.2 L362.4,105.1 L363.5,106.3 L364.7,106.3 L365.8,105.0 L367.0,103.3 L368.1,101.6 L369.3,99.7 L370.4,98.2 L371.7,100.1 L373.0,100.9" fill="none" stroke="#e6000a" stroke-width="5.3" stroke-linejoin="round" stroke-linecap="round"/>
<path d="M104.6,501.6 L105.8,502.2 L107.1,502.3 L108.3,502.8 L109.5,500.5 L110.8,499.3 L112.0,498.3 L113.3,497.9 L114.7,499.2 L116.0,497.7 L117.3,498.1 L118.7,497.1 L120.0,496.7 L121.3,497.4 L122.7,499.4 L124.0,499.7 L125.3,498.0 L126.7,498.3 L128.0,498.1 L129.3,499.7 L130.6,500.1 L131.9,499.9 L133.1,499.6 L134.4,498.9 L135.7,499.0 L137.0,498.2 L138.3,496.9 L139.6,498.5 L140.9,498.3 L142.1,499.5 L143.4,499.7 L144.7,499.6 L146.0,499.6 L147.2,499.7 L148.3,499.5 L149.5,498.8 L150.7,500.9 L151.8,502.0 L153.0,503.2 L154.2,502.2 L155.4,501.0 L156.7,500.7 L157.9,498.2 L159.1,498.5 L160.3,497.6 L161.6,496.0 L162.8,495.0 L164.0,495.3 L165.2,495.4 L166.5,496.5 L167.8,497.9 L169.0,498.1 L170.2,497.7 L171.5,499.0 L172.8,499.1 L174.0,499.5 L175.3,498.6 L176.6,498.5 L177.9,497.2 L179.1,498.2 L180.4,499.4 L181.7,497.8 L183.0,497.9 L184.3,498.3 L185.6,495.2 L186.9,493.7 L188.2,494.9 L189.5,495.3 L190.8,494.5 L192.1,492.2 L193.4,491.6 L194.7,492.6 L196.0,492.8 L197.2,491.9 L198.5,489.0 L199.8,489.2 L201.0,487.2 L202.2,486.8 L203.5,484.2 L204.8,485.2 L206.0,483.9 L207.3,482.9 L208.6,480.1 L209.9,479.4 L211.1,478.2 L212.4,477.1 L213.7,475.1 L215.0,474.7 L216.3,472.3 L217.7,470.1 L219.0,467.9 L220.3,467.7 L221.6,465.0 L223.0,463.2 L224.3,461.0 L225.6,462.0 L226.8,461.9 L228.1,461.5 L229.3,459.3 L230.6,459.2 L231.8,458.5 L233.1,457.0 L234.3,455.6 L235.6,458.0 L236.8,455.9 L238.1,455.2 L239.4,455.4 L240.7,456.8 L242.0,455.9 L243.3,457.0 L244.7,457.4 L246.0,459.4 L247.3,457.8 L248.6,458.3 L249.9,458.4 L251.2,459.9 L252.5,458.9 L253.8,458.0 L255.1,458.0 L256.3,457.7 L257.6,457.1 L258.8,458.7 L260.0,461.3 L261.2,462.4 L262.5,461.8 L263.7,463.2 L264.9,464.6 L266.1,463.6 L267.3,464.4 L268.5,464.3 L269.7,464.1 L270.9,464.4 L272.1,464.5 L273.3,465.3 L274.5,464.9 L275.7,464.4 L277.0,462.5 L278.2,463.2 L279.5,462.4 L280.7,459.3 L282.0,459.8 L283.2,457.4 L284.6,454.9 L285.9,452.4 L287.2,448.9 L288.6,445.6 L290.0,441.5 L291.5,436.3 L292.9,434.0 L294.1,432.7 L295.4,434.5 L296.6,433.5 L297.9,433.3 L299.1,433.6 L300.4,432.7 L301.6,433.0 L302.9,434.3 L304.1,435.5 L305.4,437.9 L306.6,439.8 L307.9,437.9 L309.1,438.9 L310.4,437.2 L311.7,438.5 L312.9,437.3 L314.2,438.4 L315.5,437.5 L316.8,437.8 L318.1,438.6 L319.4,440.8 L320.7,444.9 L322.0,445.6 L323.3,446.2 L324.6,446.3 L325.9,446.3 L327.2,448.0 L328.5,446.9 L329.8,450.8 L331.1,454.0 L332.4,457.9 L333.7,459.9 L335.0,463.6 L336.4,462.1 L337.9,461.6 L339.3,461.3 L340.6,464.3 L341.9,467.0 L343.2,466.8 L344.5,467.9 L345.8,470.8 L347.0,472.1 L348.2,471.7 L349.4,470.6 L350.6,472.3 L351.8,470.8 L353.0,469.3 L354.2,468.3 L355.4,467.7 L356.6,469.7 L357.9,470.8 L359.2,474.5 L360.4,478.0 L361.7,481.2 L363.0,483.3 L364.4,483.6 L365.7,485.2 L367.0,487.5 L368.4,489.1 L369.8,486.2 L371.3,485.6 L372.7,482.3" fill="none" stroke="#0c0ce4" stroke-width="5.3" stroke-linejoin="round" stroke-linecap="round"/>
<path d="M104.6,493.5 L105.8,495.4 L106.9,496.7 L108.0,498.5 L109.2,498.3 L110.3,498.6 L111.5,500.4 L112.8,499.8 L114.1,498.3 L115.4,498.0 L116.8,496.8 L118.1,496.7 L119.4,494.6 L120.7,493.4 L121.8,496.2 L123.0,497.0 L124.2,497.8 L125.3,500.2 L126.4,501.6 L127.6,501.8 L128.9,501.6 L130.2,501.4 L131.5,499.8 L132.9,499.8 L134.2,498.2 L135.5,497.6 L136.8,496.4 L138.0,496.8 L139.3,499.1 L140.5,499.1 L141.8,500.8 L143.0,500.5 L144.3,501.0 L145.5,502.1 L146.8,502.4 L148.0,501.4 L149.3,502.3 L150.5,503.0 L151.8,502.5 L153.0,502.3 L154.3,503.4 L155.6,502.7 L156.8,501.4 L158.1,501.1 L159.4,500.1 L160.7,500.8 L161.9,500.2 L163.2,498.6 L164.5,499.3 L165.8,498.8 L167.1,499.4 L168.4,499.4 L169.8,501.4 L171.1,501.2 L172.4,502.5 L173.7,502.4 L175.0,502.3 L176.3,502.4 L177.6,501.8 L179.0,500.9 L180.3,500.3 L181.6,499.5 L182.9,499.1 L184.2,497.6 L185.4,497.4 L186.7,496.5 L187.9,497.3 L189.2,497.6 L190.4,495.4 L191.7,494.3 L192.9,494.7 L194.2,494.4 L195.4,492.6 L196.7,493.2 L198.0,493.3 L199.3,491.6 L200.6,490.0 L202.0,489.3 L203.3,489.4 L204.6,487.3 L205.9,485.8 L207.2,484.3 L208.5,484.1 L209.8,483.2 L211.2,481.7 L212.5,480.8 L213.8,479.0 L215.1,478.2 L216.4,479.0 L217.7,477.9 L218.9,476.1 L220.2,476.2 L221.5,474.4 L222.8,472.7 L224.0,470.9 L225.3,469.7 L226.6,468.7 L227.9,467.8 L229.2,468.4 L230.4,466.7 L231.7,465.3 L233.0,464.9 L234.3,465.0 L235.5,463.0 L236.8,462.6 L238.1,461.0 L239.4,460.4 L240.7,459.9 L242.0,460.0 L243.3,459.3 L244.7,458.0 L246.0,457.8 L247.3,456.2 L248.6,455.0 L249.9,455.6 L251.2,454.5 L252.5,454.2 L253.8,452.7 L255.1,453.0 L256.5,449.9 L258.0,446.0 L259.4,444.2 L260.8,447.3 L262.3,450.3 L263.7,453.4 L264.9,452.8 L266.1,452.7 L267.3,453.9 L268.5,453.1 L269.7,453.0 L270.9,453.4 L272.1,453.9 L273.3,453.7 L274.5,454.6 L275.9,449.2 L277.2,444.5 L278.5,440.0 L279.9,434.7 L281.2,431.9 L282.6,428.9 L283.9,427.5 L285.3,424.1 L286.6,417.4 L288.0,409.2 L289.4,402.4 L290.7,395.2 L292.0,393.6 L293.3,393.6 L294.6,392.4 L295.9,391.0 L297.2,388.6 L298.5,390.3 L299.8,391.5 L301.1,393.4 L302.4,396.2 L303.7,398.2 L305.0,392.6 L306.3,389.4 L307.5,386.4 L308.8,382.1 L310.1,376.9 L311.5,378.9 L312.8,379.2 L314.1,381.1 L315.5,382.2 L316.8,384.2 L318.1,386.4 L319.4,386.4 L320.7,389.1 L322.0,390.3 L323.4,392.2 L324.7,395.0 L326.0,398.3 L327.4,399.9 L328.7,400.3 L329.9,401.1 L331.2,400.8 L332.5,400.6 L333.7,399.9 L335.0,401.0 L336.3,399.1 L337.6,398.7 L338.8,398.1 L340.1,395.7 L341.4,396.5 L342.6,396.1 L343.9,398.1 L345.1,399.2 L346.4,400.0 L347.6,400.6 L348.9,400.1 L350.1,400.3 L351.4,397.7 L352.7,396.7 L354.0,393.0 L355.3,390.3 L356.6,389.9 L357.9,390.2 L359.2,389.9 L360.4,390.4 L361.7,389.4 L363.0,389.5 L364.4,385.8 L365.7,383.6 L367.0,378.9 L368.4,376.0 L369.8,380.4 L371.3,385.0 L372.7,388.5" fill="none" stroke="#e6000a" stroke-width="5.3" stroke-linejoin="round" stroke-linecap="round"/>
<path d="M104.6,771.6 L105.8,768.8 L107.1,769.7 L108.3,768.0 L109.5,769.8 L110.8,767.3 L112.0,768.8 L113.3,769.3 L114.7,770.4 L116.0,771.6 L117.3,769.7 L118.7,769.3 L120.0,770.5 L121.3,768.8 L122.5,767.5 L123.8,766.4 L125.1,767.6 L126.3,767.9 L127.6,767.4 L128.8,766.1 L130.1,768.2 L131.3,768.0 L132.5,767.3 L133.8,768.0 L135.0,768.5 L136.2,767.5 L137.5,768.7 L138.8,768.7 L140.0,769.5 L141.2,771.2 L142.5,771.2 L143.8,770.4 L145.0,771.7 L146.2,772.9 L147.5,771.8 L148.8,772.9 L150.0,770.4 L151.2,769.5 L152.5,769.1 L153.8,771.6 L155.0,771.9 L156.2,772.2 L157.5,770.9 L158.8,770.9 L160.0,772.3 L161.2,770.3 L162.5,769.3 L163.8,768.6 L165.0,769.7 L166.3,771.6 L167.6,771.6 L168.9,771.2 L170.2,771.4 L171.5,770.4 L172.8,772.6 L174.1,771.7 L175.4,770.9 L176.7,770.8 L178.0,772.6 L179.2,771.9 L180.4,773.6 L181.6,772.7 L182.8,772.7 L183.9,771.5 L185.1,773.9 L186.3,774.8 L187.5,774.3 L188.8,771.6 L190.0,770.9 L191.2,769.7 L192.5,770.0 L193.8,770.0 L195.0,768.8 L196.3,767.3 L197.7,765.8 L199.0,768.1 L200.3,769.5 L201.7,767.6 L203.0,767.9 L204.3,767.0 L205.7,767.9 L207.0,764.7 L208.3,762.8 L209.7,764.1 L211.0,763.4 L212.2,764.4 L213.4,766.8 L214.6,768.0 L215.8,769.7 L217.0,769.7 L218.2,768.1 L219.4,766.8 L220.7,767.2 L221.9,768.2 L223.1,767.6 L224.3,767.1 L225.4,769.0 L226.6,770.8 L227.7,771.9 L228.9,772.1 L230.0,774.4 L231.2,776.5 L232.3,778.7 L233.4,780.5 L234.6,779.2 L235.8,781.5 L236.9,782.4 L238.2,783.0 L239.5,784.1 L240.8,783.9 L242.2,784.5 L243.5,787.7 L244.8,787.5 L246.1,789.8 L247.4,789.7 L248.7,788.3 L249.9,787.5 L251.2,788.0 L252.5,788.5 L253.8,787.5 L255.0,786.0 L256.3,785.5 L257.6,787.6 L258.9,787.3 L260.2,784.6 L261.4,785.3 L262.7,784.4 L264.0,782.6 L265.3,783.2 L266.5,780.4 L267.8,778.5 L269.1,777.9 L270.5,777.5 L271.8,775.7 L273.1,773.6 L274.5,773.0 L275.9,770.1 L277.2,769.0 L278.3,763.7 L279.5,762.2 L280.6,757.8 L281.8,755.8 L282.9,754.0 L284.2,751.8 L285.6,749.4 L286.9,747.0 L288.3,745.5 L289.6,742.3 L291.0,739.3 L292.4,738.9 L293.7,738.2 L295.1,735.9 L296.4,735.7 L297.8,735.0 L299.1,733.0 L300.4,733.4 L301.7,733.4 L303.0,731.4 L304.4,731.7 L305.7,731.7 L307.0,730.2 L308.3,728.0 L309.4,726.8 L310.6,725.6 L311.8,725.4 L312.9,727.6 L314.1,725.5 L315.2,727.2 L316.4,726.7 L317.5,726.3 L318.6,723.4 L319.8,723.4 L321.0,721.6 L322.1,721.8 L323.4,724.5 L324.8,726.5 L326.1,727.7 L327.4,730.3 L328.8,730.3 L330.1,730.9 L331.4,732.4 L332.7,730.3 L334.0,730.2 L335.4,730.1 L336.7,731.4 L338.0,730.2 L339.3,730.1 L340.6,730.4 L341.9,730.6 L343.2,731.0 L344.5,731.3 L345.8,732.2 L347.1,732.2 L348.4,732.5 L349.7,734.5 L351.1,736.4 L352.4,735.4 L353.8,737.8 L355.1,736.3 L356.4,737.1 L357.8,739.9 L358.9,737.6 L360.1,737.8 L361.2,738.7 L362.4,737.5 L363.5,736.0 L364.8,735.3 L366.1,737.0 L367.4,738.4 L368.8,740.8 L370.1,741.3 L371.4,743.5 L372.7,743.8" fill="none" stroke="#0c0ce4" stroke-width="5.3" stroke-linejoin="round" stroke-linecap="round"/>
<path d="M104.6,772.2 L105.8,771.7 L106.9,771.0 L108.0,770.5 L109.2,769.8 L110.3,769.8 L111.5,768.5 L112.7,770.3 L113.8,770.2 L114.9,771.5 L116.1,772.8 L117.4,771.9 L118.7,772.6 L119.9,771.6 L121.2,772.1 L122.5,772.4 L123.8,770.6 L125.0,771.0 L126.3,770.7 L127.6,770.0 L128.9,768.6 L130.1,769.0 L131.4,769.8 L132.6,769.4 L133.9,769.2 L135.1,769.4 L136.4,769.5 L137.6,770.9 L138.9,770.7 L140.1,770.9 L141.4,771.6 L142.6,772.6 L143.9,771.6 L145.1,770.6 L146.3,772.3 L147.6,772.9 L148.8,773.1 L150.0,772.6 L151.3,771.7 L152.5,771.1 L153.7,771.2 L155.0,771.6 L156.2,771.0 L157.4,772.2 L158.7,772.9 L159.9,771.6 L161.2,772.9 L162.5,772.7 L163.7,773.6 L165.0,773.0 L166.3,773.5 L167.6,772.9 L168.8,773.0 L170.1,772.7 L171.4,771.5 L172.7,770.7 L173.9,770.3 L175.2,770.4 L176.4,770.1 L177.7,770.1 L178.9,770.2 L180.2,769.5 L181.4,768.7 L182.7,768.5 L183.9,769.3 L185.2,769.1 L186.5,768.4 L187.8,768.2 L189.1,766.4 L190.5,765.0 L191.8,764.0 L193.1,763.3 L194.4,762.5 L195.6,764.4 L196.7,766.3 L197.9,765.6 L199.0,766.9 L200.2,768.5 L201.3,769.1 L202.6,766.7 L203.9,766.1 L205.2,764.5 L206.6,762.9 L207.9,761.3 L209.2,761.2 L210.5,761.6 L211.7,762.5 L212.8,764.1 L213.9,766.5 L215.1,767.9 L216.2,770.7 L217.4,773.8 L218.7,774.3 L220.0,773.9 L221.3,774.0 L222.7,774.8 L224.0,776.6 L225.3,778.5 L226.6,778.7 L227.9,778.7 L229.2,779.5 L230.5,780.9 L231.8,781.5 L233.0,782.4 L234.3,784.1 L235.6,786.5 L236.9,786.8 L238.2,789.0 L239.6,790.5 L240.9,790.7 L242.3,790.7 L243.7,791.2 L245.0,793.0 L246.3,793.7 L247.5,794.1 L248.8,792.7 L250.0,792.4 L251.3,791.2 L252.6,791.3 L253.8,791.2 L255.1,790.7 L256.3,790.3 L257.6,792.2 L258.9,791.0 L260.1,790.5 L261.4,790.0 L262.6,789.3 L263.9,788.9 L265.1,788.2 L266.4,787.5 L267.6,785.9 L268.9,786.1 L270.1,785.9 L271.4,785.7 L272.8,783.4 L274.1,781.8 L275.4,781.1 L276.8,779.7 L278.1,776.7 L279.5,775.1 L280.9,772.0 L282.2,770.4 L283.6,767.5 L284.9,764.7 L286.2,761.5 L287.6,759.2 L288.7,756.1 L289.9,752.5 L291.0,747.8 L292.2,746.3 L293.3,745.5 L294.5,743.0 L295.6,743.1 L296.8,740.4 L297.9,737.5 L299.1,733.0 L300.2,730.9 L301.4,727.4 L302.5,722.6 L303.9,722.6 L305.2,723.3 L306.6,723.5 L307.9,723.1 L309.2,722.7 L310.6,722.7 L311.8,721.9 L312.9,719.8 L314.1,718.4 L315.2,717.4 L316.4,715.6 L317.5,713.3 L318.6,711.9 L319.8,709.7 L320.9,708.5 L322.1,707.1 L323.2,705.9 L324.4,705.0 L325.5,704.8 L326.6,707.2 L327.8,708.3 L329.0,709.9 L330.1,710.6 L331.3,709.3 L332.4,706.0 L333.6,703.5 L334.7,702.5 L335.9,701.6 L337.0,699.9 L338.2,700.8 L339.3,699.4 L340.5,698.3 L341.6,698.1 L342.8,698.6 L343.9,699.0 L345.1,699.7 L346.2,700.4 L347.4,701.5 L348.5,699.5 L349.7,697.2 L350.9,694.4 L352.0,690.5 L353.1,687.7 L354.3,683.1 L355.4,684.5 L356.6,684.2 L357.8,683.4 L358.9,683.8 L360.1,683.6 L361.2,684.9 L362.4,682.3 L363.5,679.0 L364.6,676.6 L365.8,674.0 L367.0,675.9 L368.2,675.6 L369.4,676.3 L370.6,676.2 L371.8,675.8 L373.0,676.3" fill="none" stroke="#e6000a" stroke-width="5.3" stroke-linejoin="round" stroke-linecap="round"/>
<circle cx="132.2" cy="88.2" r="9.3" fill="#e6000a"/>
<circle cx="132.2" cy="119.8" r="9.3" fill="#0c0ce4"/>
<text font-size="18.7" transform="translate(0.0 97.2) scale(1 1.040)" fill="#111" x="146.8 160.4 171.6 182.9 194.1 195.7 206.2 212.0 224.0 233.6">Counteract</text>
<text font-size="19.2" transform="translate(146.3 128.3) scale(1 1.040)" fill="#111" letter-spacing="0.90">DNI</text>
<clipPath id="one"><rect x="-2" y="-40" width="30" height="35.9"/><rect x="9.8" y="-4.6" width="4.1" height="6"/></clipPath>
<clipPath id="hund"><rect x="-2" y="-40" width="80" height="35.9"/><rect x="9.8" y="-4.6" width="4.1" height="7"/><rect x="20.8" y="-4.6" width="60" height="7"/></clipPath>
<text font-size="40.0" text-anchor="end" transform="translate(85.0 31.8) scale(1 1.040)">3</text>
<text font-size="40.0" text-anchor="end" transform="translate(85.0 128.8) scale(1 1.040)">2</text>
<text font-size="40.0" text-anchor="end" transform="translate(85.0 320.6) scale(1 1.040)">3</text>
<text font-size="40.0" text-anchor="end" transform="translate(85.0 418.0) scale(1 1.040)">2</text>
<text font-size="40.0" text-anchor="end" transform="translate(85.0 609.6) scale(1 1.040)">3</text>
<text font-size="40.0" text-anchor="end" transform="translate(85.0 696.8) scale(1 1.040)">2</text>
<text font-size="40.0" transform="translate(64.7 225.8) scale(1 1.040)" clip-path="url(#one)">1</text>
<text font-size="40.0" transform="translate(64.7 514.2) scale(1 1.040)" clip-path="url(#one)">1</text>
<text font-size="40.0" transform="translate(64.7 784.7) scale(1 1.040)" clip-path="url(#one)">1</text>
<text font-size="40.0" transform="translate(570.5 229.6) scale(1 1.040)">0</text>
<text font-size="40.0" transform="translate(570.5 515.0) scale(1 1.040)">0</text>
<text font-size="40.0" transform="translate(570.5 785.6) scale(1 1.040)">0</text>
<text font-size="40.0" transform="translate(572.7 35.3) scale(1 1.040)" clip-path="url(#one)">1</text>
<text font-size="40.0" transform="translate(572.7 320.5) scale(1 1.040)" clip-path="url(#one)">1</text>
<text font-size="40.0" transform="translate(572.7 611.3) scale(1 1.040)" clip-path="url(#one)">1</text>
<text font-size="40.0" text-anchor="middle" transform="translate(128.8 873.3) scale(1 1.040)">0</text>
<text font-size="40.0" transform="translate(0.0 873.3) scale(1 1.040)" x="167.8 191.2">25</text>
<text font-size="40.0" transform="translate(0.0 873.3) scale(1 1.040)" x="228.7 249.4">50</text>
<text font-size="40.0" transform="translate(0.0 873.3) scale(1 1.040)" x="288.9 311.4">75</text>
<text font-size="40.0" transform="translate(340.0 873.3) scale(1 1.040)" clip-path="url(#hund)" x="0 19.7 42.8">100</text>
<text font-size="40.0" transform="translate(0.0 874.0) scale(1 1.040)" x="422.9 447.9">SL</text>
<text font-size="40.0" transform="translate(0.0 874.0) scale(1 1.040)" x="491.2 513.9">LL</text>
<text font-size="39.5" transform="translate(0.0 912.8) scale(1 1.040)" x="169.6 195.9 203.8 235.0 257.0 266.7 279.4 313.3 337.2">Time (ms)</text>
<text font-size="31.5" transform="translate(0.0 40.5) scale(1 1.040)" x="243.0 273.0 282.6 289.0 306.6 315.4 326.1 344.5 350.2 367.5 386.1 393.1 411.1">Wrist Flexion</text>
<text font-size="31.5" transform="translate(0.0 319.6) scale(1 1.040)" x="243.3 273.3 282.9 289.3 306.9 315.7 325.9 346.7 365.6 383.4 391.5 401.7 420.7">Wrist Neutral</text>
<text font-size="31.5" transform="translate(0.0 600.6) scale(1 1.040)" x="222.9 252.9 262.5 268.9 286.5 295.3 306.7 327.1 346.0 355.7 373.7 392.3 409.1 416.9 434.9">Wrist Extension</text>
<text font-size="30.0" font-weight="bold" transform="translate(114.0 43.2) scale(1 1.040)">a</text>
<text font-size="30.0" font-weight="bold" transform="translate(519.0 41.7) scale(1 1.040)">b</text>
<text font-size="30.0" font-weight="bold" transform="translate(114.5 328.0) scale(1 1.040)">c</text>
<text font-size="30.0" font-weight="bold" transform="translate(519.3 329.0) scale(1 1.040)">d</text>
<text font-size="30.0" font-weight="bold" transform="translate(114.5 621.7) scale(1 1.040)">e</text>
<text font-size="30.0" font-weight="bold" transform="translate(519.0 624.0) scale(1 1.040)">f</text>
<text font-size="43.7" transform="translate(32.7 667.2) rotate(-90) scale(1 1.040)" x="0.0 26.4 40.6 49.9 71.4 95.4 119.4 140.9 152.7 181.9 206.2 215.9 240.2 265.5 274.2 287.5 319.1 344.5 350.8 362.7 390.9 410.2 422.3 436.9 466.0 498.7">Triceps Spinal Reflex (AU)</text>
<text font-size="41.0" transform="translate(662.3 225.0) rotate(90) scale(1 1.050)" x="-0.1 25.1 40.2 48.3 68.5 88.8 108.1 128.6 137.5 167.3 187.8 205.4 215.5 229.5 250.0 269.6 289.9 308.3 328.3 348.5 368.5 388.5">Triceps Goal-dependent</text>
<text font-size="41.0" transform="translate(612.9 316.0) rotate(90) scale(1 1.050)" x="0.0 25.4 45.6 53.0 64.4 83.7 93.4 103.2 123.7 131.4 145.3 169.9 202.4">Activity (AU)</text>
</svg>
</body></html>
